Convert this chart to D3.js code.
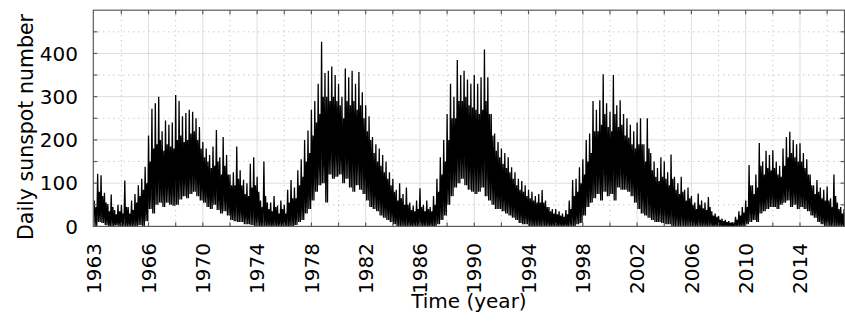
<!DOCTYPE html>
<html>
<head>
<meta charset="utf-8">
<script src="https://cdn.jsdelivr.net/npm/d3@7"></script>
<style>
  html, body { margin: 0; padding: 0; background: #fff; }
  svg { display: block; }
  text { font-family: "DejaVu Sans", sans-serif; fill: #000; }
</style>
</head>
<body>
<svg id="chart" width="845" height="324"></svg>
<script>
// Daily sunspot number, summarised per quarter year:
// highest spike, top of the dense band, and lowest dip
const startYear = 1962;
const stepYears = 0.25;

const dailyHigh = [
  60, 122, 118, 78,   52, 74, 38, 50,     50, 106, 45, 60,    75, 95, 110, 138,   // 1962-1965
  210, 272, 285, 300, 220, 245, 235, 240, 304, 290, 255, 262, 270, 265, 250, 230, // 1966-1969
  195, 180, 165, 185, 223, 160, 207, 165, 120, 125, 185, 130, 108, 100, 145, 160, // 1970-1973
  115, 60, 150, 55,   55, 70, 48, 60,     50, 85, 107, 90,    130, 155, 200, 222, // 1974-1977
  270, 290, 330, 427, 355, 360, 370, 350, 330, 300, 365, 345, 360, 330, 357, 310, // 1978-1981
  280, 255, 207, 190, 180, 165, 150, 125, 110, 85, 100, 75,   90, 55, 48, 60,     // 1982-1985
  88, 50, 60, 45,     70, 110, 160, 200,  260, 330, 300, 385, 350, 360, 340, 330, // 1986-1989
  350, 330, 345, 409, 345, 260, 215, 195, 180, 170, 160, 137, 125, 110, 105, 95,  // 1990-1993
  85, 80, 70, 75,     84, 60, 45, 40,     40, 35, 30, 38,     60, 107, 110, 137,  // 1994-1997
  155, 200, 215, 290, 270, 292, 352, 285, 265, 350, 280, 292, 260, 250, 235, 220, // 1998-2001
  240, 250, 190, 250, 170, 150, 135, 160, 150, 125, 166, 115, 100, 115, 85, 90,   // 2002-2005
  70, 55, 76, 60,     55, 68, 35, 30,     24, 18, 15, 12,     10, 22, 35, 45,     // 2006-2009
  60, 142, 95, 120,   193, 150, 175, 165, 176, 150, 140, 180, 207, 219, 200, 190, // 2010-2013
  192, 170, 155, 120, 95, 107, 90, 85,    92, 65, 120, 55,    45, 40              // 2014-2017
];

const dailyBand = [
  45, 80, 70, 55,     35, 45, 28, 35,     30, 45, 30, 38,     55, 70, 85, 100,    // 1962-1965
  150, 180, 190, 200, 175, 190, 185, 180, 200, 210, 195, 200, 215, 220, 200, 180, // 1966-1969
  160, 150, 135, 140, 150, 120, 140, 120, 95, 95, 110, 95,    75, 70, 90, 95,     // 1970-1973
  80, 45, 70, 40,     35, 45, 30, 40,     30, 55, 65, 65,     95, 115, 150, 170,  // 1974-1977
  210, 240, 260, 300, 300, 290, 300, 290, 280, 250, 290, 280, 290, 270, 280, 250, // 1978-1981
  220, 200, 170, 150, 140, 125, 110, 95,  80, 60, 65, 50,     50, 38, 35, 40,     // 1982-1985
  45, 35, 40, 35,     50, 80, 120, 150,   200, 250, 250, 290, 290, 300, 280, 275, // 1986-1989
  270, 260, 270, 290, 260, 210, 175, 160, 145, 135, 125, 110, 95, 85, 80, 70,     // 1990-1993
  65, 60, 55, 55,     55, 45, 35, 30,     28, 25, 22, 28,     40, 70, 80, 100,    // 1994-1997
  120, 150, 170, 220, 220, 235, 260, 230, 220, 260, 230, 235, 210, 205, 190, 180, // 1998-2001
  190, 190, 150, 180, 130, 115, 105, 115, 110, 95, 110, 85,   75, 80, 60, 65,     // 2002-2005
  50, 40, 50, 42,     38, 45, 25, 22,     15, 12, 10, 8,      6, 15, 25, 32,      // 2006-2009
  45, 95, 75, 90,     140, 120, 135, 130, 135, 120, 115, 140, 160, 170, 160, 150, // 2010-2013
  150, 135, 120, 95,  75, 80, 65, 60,     60, 45, 70, 40,     30, 28              // 2014-2017
];

const dailyLow = [
  0, 10, 8, 3,        0, 0, 2, 0,         0, 0, 0, 0,         0, 3, 0, 12,        // 1962-1965
  40, 30, 50, 55,     45, 55, 50, 48,     50, 62, 70, 65,     75, 80, 70, 60,     // 1966-1969
  55, 45, 40, 50,     38, 30, 35, 25,     15, 12, 10, 10,     5, 5, 3, 0,         // 1970-1973
  0, 0, 0, 0,         0, 0, 0, 0,         0, 0, 0, 3,         10, 15, 30, 40,     // 1974-1977
  60, 80, 95, 100,    55, 120, 110, 115,  120, 100, 110, 90,  80, 95, 85, 75,     // 1978-1981
  60, 45, 40, 35,     25, 20, 15, 10,     5, 0, 0, 0,         0, 0, 0, 0,         // 1982-1985
  0, 0, 0, 0,         0, 5, 15, 25,       50, 70, 90, 100,    110, 95, 85, 80,    // 1986-1989
  75, 80, 90, 70,     60, 50, 40, 40,     35, 30, 25, 20,     15, 8, 5, 5,        // 1990-1993
  0, 0, 0, 0,         0, 0, 0, 0,         0, 0, 0, 0,         0, 0, 5, 8,         // 1994-1997
  25, 45, 55, 65,     75, 60, 80, 70,     75, 60, 90, 85,     85, 80, 70, 55,     // 1998-2001
  40, 30, 25, 20,     15, 10, 10, 8,      5, 5, 0, 0,         0, 0, 0, 0,         // 2002-2005
  0, 0, 0, 0,         0, 0, 0, 0,         0, 0, 0, 0,         0, 0, 0, 0,         // 2006-2009
  5, 10, 15, 10,      30, 35, 40, 45,     45, 40, 50, 55,     60, 45, 50, 40,     // 2010-2013
  45, 40, 35, 25,     20, 10, 5, 0,       0, 0, 0, 0,         0, 0                // 2014-2017
];

const yTickValues = [0, 100, 200, 300, 400];
const yMinorValues = [50, 150, 250, 350, 450];
const xTickYears = [1966, 1970, 1974, 1978, 1982, 1986, 1990, 1994, 1998, 2002, 2006, 2010, 2014];
const xMinorYears = [1964, 1968, 1972, 1976, 1980, 1984, 1988, 1992, 1996, 2000, 2004, 2008, 2012, 2016];
const xEdgeLabel = "1963";
const xTitle = "Time (year)";
const yTitle = "Daily sunspot number";

const svg = d3.select("#chart");
const plotL = 93.3, plotR = 844.5, plotT = 10.2, plotB = 226.4;

const x = d3.scaleLinear().domain([1961.93, 2017.28]).range([plotL, plotR]);
const y = d3.scaleLinear().domain([0, 500]).range([plotB, plotT]);

// grid: solid major lines, dotted minor lines
const grid = svg.append("g");
grid.selectAll(".hmaj").data(yTickValues.slice(1)).join("line")
  .attr("x1", plotL).attr("x2", plotR)
  .attr("y1", d => y(d)).attr("y2", d => y(d))
  .attr("stroke", "#dedede").attr("stroke-width", 1);
grid.selectAll(".vmaj").data(xTickYears).join("line")
  .attr("y1", plotT).attr("y2", plotB)
  .attr("x1", d => x(d)).attr("x2", d => x(d))
  .attr("stroke", "#dedede").attr("stroke-width", 1);
grid.selectAll(".hmin").data(yMinorValues).join("line")
  .attr("x1", plotL).attr("x2", plotR)
  .attr("y1", d => y(d)).attr("y2", d => y(d))
  .attr("stroke", "#b4b4b4").attr("stroke-width", 1)
  .attr("stroke-dasharray", "1,4");
grid.selectAll(".vmin").data(xMinorYears).join("line")
  .attr("y1", plotT).attr("y2", plotB)
  .attr("x1", d => x(d)).attr("x2", d => x(d))
  .attr("stroke", "#b4b4b4").attr("stroke-width", 1)
  .attr("stroke-dasharray", "1,4");

// sunspot trace: each quarter runs spike, dip, band top, dip
const points = [];
dailyHigh.forEach((h, i) => {
  const t = startYear + i * stepYears;
  points.push([t, h]);
  points.push([t + stepYears * 0.25, dailyLow[i]]);
  points.push([t + stepYears * 0.5, dailyBand[i]]);
  points.push([t + stepYears * 0.75, dailyLow[i]]);
});

svg.append("clipPath").attr("id", "plotClip")
  .append("rect").attr("x", plotL).attr("y", plotT)
  .attr("width", plotR - plotL).attr("height", plotB - plotT);

svg.append("path")
  .datum(points)
  .attr("clip-path", "url(#plotClip)")
  .attr("fill", "none")
  .attr("stroke", "#000")
  .attr("stroke-width", 1.3)
  .attr("stroke-linejoin", "miter")
  .attr("d", d3.line().x(d => x(d[0])).y(d => y(d[1])));

// frame
svg.append("rect")
  .attr("x", plotL).attr("y", plotT)
  .attr("width", plotR - plotL).attr("height", plotB - plotT)
  .attr("fill", "none").attr("stroke", "#5a5a5a").attr("stroke-width", 1.2);

// inward tick marks on all four sides
const tickLen = 4;
const allX = xTickYears.concat(xMinorYears);
const allY = yTickValues.concat(yMinorValues).filter(v => v > 0);
const ticks = svg.append("g").attr("stroke", "#5a5a5a").attr("stroke-width", 1.2);
ticks.selectAll(".tt").data(allX).join("line")
  .attr("x1", d => x(d)).attr("x2", d => x(d)).attr("y1", plotT).attr("y2", plotT + tickLen);
ticks.selectAll(".tb").data(allX).join("line")
  .attr("x1", d => x(d)).attr("x2", d => x(d)).attr("y1", plotB).attr("y2", plotB - tickLen);
ticks.selectAll(".tl").data(allY).join("line")
  .attr("y1", d => y(d)).attr("y2", d => y(d)).attr("x1", plotL).attr("x2", plotL + tickLen);
ticks.selectAll(".tr").data(allY).join("line")
  .attr("y1", d => y(d)).attr("y2", d => y(d)).attr("x1", plotR).attr("x2", plotR - tickLen);

// y tick labels
svg.append("g").selectAll("text").data(yTickValues).join("text")
  .attr("x", 78).attr("y", d => y(d)).attr("dy", "0.36em")
  .attr("text-anchor", "end").attr("font-size", 20)
  .text(d => d);

// x tick labels, rotated
const xLabels = [{ pos: plotL, text: xEdgeLabel }].concat(
  xTickYears.map(v => ({ pos: x(v), text: String(v) })));
svg.append("g").selectAll("text").data(xLabels).join("text")
  .attr("transform", d => `translate(${d.pos},243) rotate(-90)`)
  .attr("dy", "0.36em")
  .attr("text-anchor", "end").attr("font-size", 20)
  .text(d => d.text);

// axis titles
svg.append("text")
  .attr("x", (plotL + plotR) / 2).attr("y", 308)
  .attr("text-anchor", "middle").attr("font-size", 20)
  .text(xTitle);
svg.append("text")
  .attr("transform", `translate(33,127) rotate(-90)`)
  .attr("text-anchor", "middle").attr("font-size", 20.5)
  .text(yTitle);
</script>
</body>
</html>
